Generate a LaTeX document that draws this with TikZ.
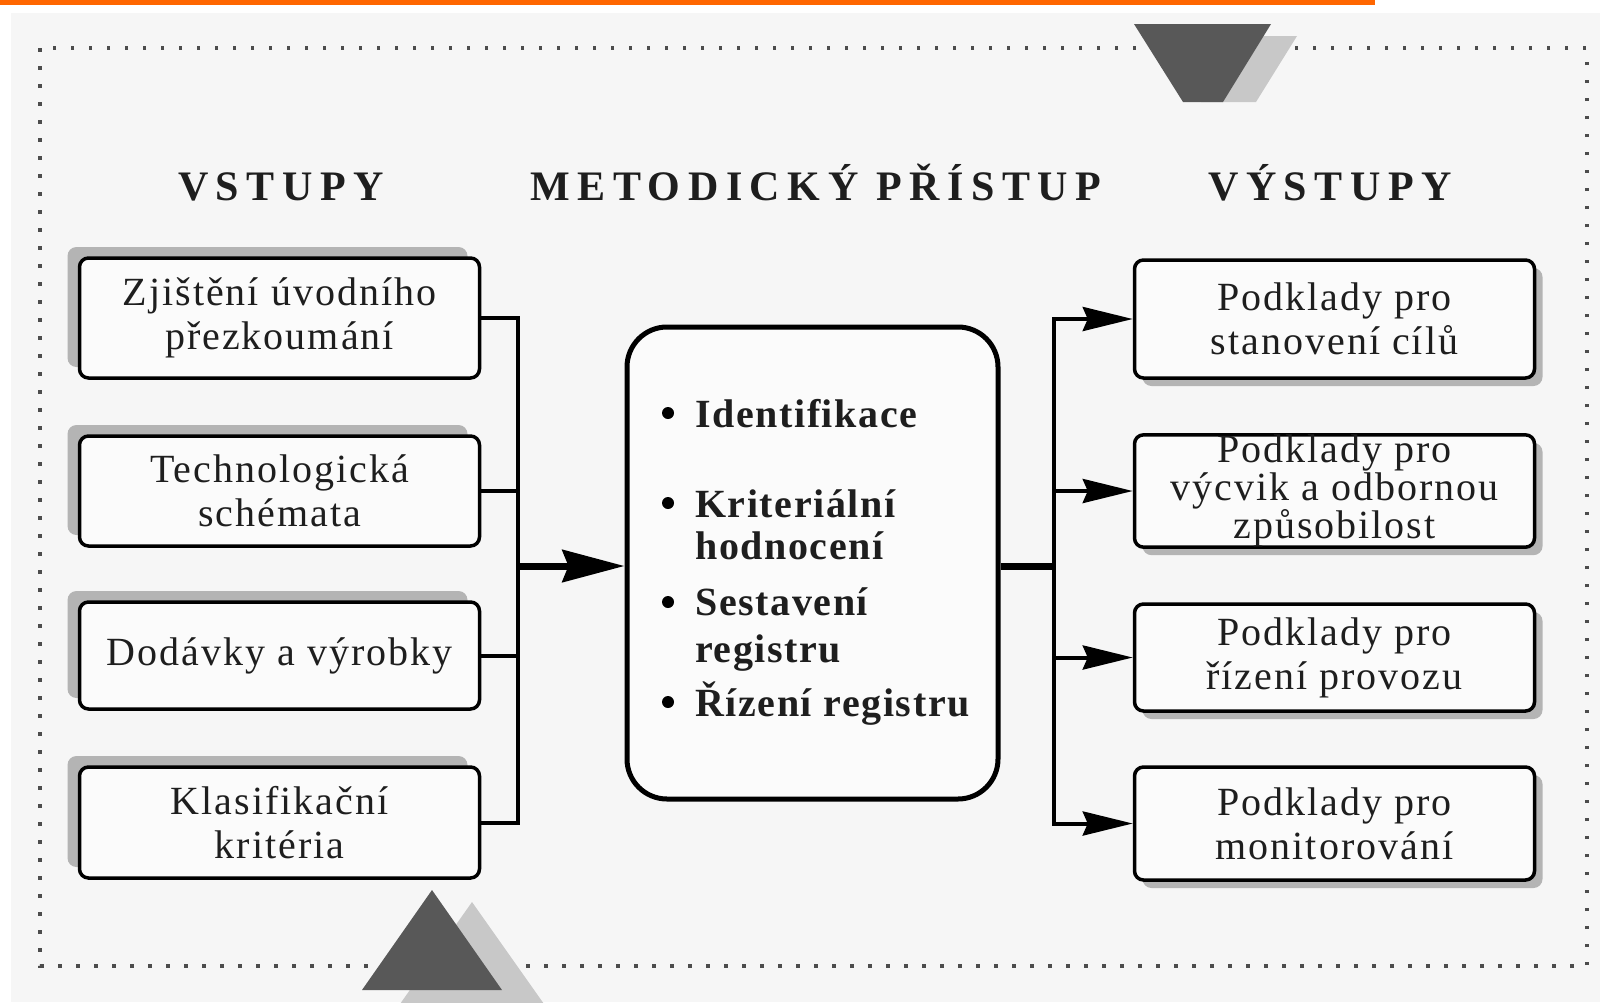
\documentclass[tikz,border=0pt]{standalone}
\usepackage{fontspec}
\setmainfont{Liberation Serif}
\newfontfamily\headfont[LetterSpace=18]{Liberation Serif}
\newfontfamily\boxfont[LetterSpace=5]{Liberation Serif}
\newfontfamily\midfont[LetterSpace=4]{Liberation Serif}
\usetikzlibrary{arrows.meta,shadows}
\definecolor{orangebar}{HTML}{FF6600}
\definecolor{bgcol}{RGB}{246,246,246}
\definecolor{darktri}{RGB}{88,88,88}
\definecolor{lighttri}{RGB}{200,200,200}
\definecolor{shadowcol}{RGB}{180,180,180}
\definecolor{boxfill}{RGB}{251,251,251}
\definecolor{txt}{RGB}{30,30,30}
\begin{document}
\begin{tikzpicture}[x=1pt,y=-1pt,
  basebox/.style={draw=black, line width=3.5pt, rounded corners=9pt, fill=boxfill,
    minimum width=400pt, align=center, inner sep=0pt, text=txt,
    font=\boxfont\fontsize{40}{44}\selectfont},
  lbox/.style={basebox, general shadow={fill=shadowcol, shadow xshift=-12pt, shadow yshift=11pt}},
  rbox/.style={basebox, general shadow={fill=shadowcol, shadow xshift=8pt, shadow yshift=-8pt}},
  head/.style={anchor=base, text=txt, font=\headfont\bfseries\fontsize{42}{46}\selectfont, inner sep=0pt},
  midtext/.style={anchor=base west, text=txt, inner sep=0pt, font=\midfont\bfseries\fontsize{40}{44}\selectfont},
  conn/.style={draw=black, line width=4pt, line join=miter},
  bigconn/.style={draw=black, line width=7pt, line join=miter},
  rarr/.style={conn, -{Stealth[length=50pt,width=24pt,inset=5pt]}},
  larr/.style={bigconn, -{Stealth[length=62pt,width=32pt,inset=6pt]}},
  dotborder/.style={draw=black!70, line width=3.5pt, dash pattern=on 3.5pt off 14.5pt}
]
\useasboundingbox (0,0) rectangle (1600,1002);
% background
\fill[white] (0,0) rectangle (1600,1002);
\fill[bgcol] (11,13) rectangle (1600,1002);
\fill[orangebar] (0,0) rectangle (1375,5);
\draw[dotborder] (40,48) rectangle (1587,966);
% decorative triangles
\fill[lighttri] (1160,36) -- (1297,36) -- (1256,102) -- (1201,102) -- cycle;
\fill[darktri] (1134,24) -- (1271,24) -- (1223,102) -- (1183,102) -- cycle;
\fill[lighttri] (472,902) -- (544,1004) -- (400,1004) -- cycle;
\fill[darktri] (432,890) -- (502,990) -- (362,990) -- cycle;
% headers
\node[head] (h1) at (281,200) {VSTUPY};
\node[head] (h2) at (816,200) {METODICKÝ PŘÍSTUP};
\node[head] (h3) at (1330,200) {VÝSTUPY};
% left boxes
\node[lbox, minimum height=120pt] (l1) at (279.5,318) {Zjištění úvodního\\přezkoumání};
\node[lbox, minimum height=110pt] (l2) at (279.5,491) {Technologická\\schémata};
\node[lbox, minimum height=107pt] (l3) at (279.5,655.5) {Dodávky a výrobky};
\node[lbox, minimum height=111pt] (l4) at (279.5,822.5) {Klasifikační\\kritéria};
% right boxes
\node[rbox, minimum height=118pt] (r1) at (1334.5,319) {Podklady pro\\stanovení cílů};
\node[rbox, minimum height=110pt, font=\boxfont\fontsize{40}{36}\selectfont] (r2) at (1334.5,491) {Podklady pro\\výcvik a odbornou\\způsobilost};
\node[rbox, minimum height=107pt] (r3) at (1334.5,657.5) {Podklady pro\\řízení provozu};
\node[rbox, minimum height=113pt] (r4) at (1334.5,823.5) {Podklady pro\\monitorování};
% center box
\node[draw=black, line width=5pt, rounded corners=40pt, fill=boxfill,
  minimum width=371pt, minimum height=472pt] (c) at (812.5,563) {};
\fill[black] (668,413) circle (6pt);
\fill[black] (668,503) circle (6pt);
\fill[black] (668,602) circle (6pt);
\fill[black] (668,702) circle (6pt);
\node[midtext] (t1) at (695,427) {Identifikace};
\node[midtext] (t2) at (695,517) {Kriteriální};
\node[midtext] (t3) at (695,559) {hodnocení};
\node[midtext] (t4) at (695,615) {Sestavení};
\node[midtext] (t5) at (695,662) {registru};
\node[midtext] (t6) at (695,716) {Řízení registru};
% left connectors
\coordinate (bl) at (518,566);
\draw[conn] (l1.east) -| (bl);
\draw[conn] (l4.east) -| (bl);
\draw[conn] (l2.east) -- (l2.east -| bl);
\draw[conn] (l3.east) -- (l3.east -| bl);
\draw[larr] ([xshift=-2pt]bl) -- (c.west |- bl);
% right connectors
\coordinate (br) at (1054,566);
\draw[bigconn] (c.east |- br) -- ([xshift=2pt]br);
\draw[conn] (r1.west -| br) -- (r4.west -| br);
\draw[rarr] ([xshift=-2pt]r1.west -| br) -- (r1.west);
\draw[rarr] ([xshift=-2pt]r2.west -| br) -- (r2.west);
\draw[rarr] ([xshift=-2pt]r3.west -| br) -- (r3.west);
\draw[rarr] ([xshift=-2pt]r4.west -| br) -- (r4.west);
\end{tikzpicture}
\end{document}
